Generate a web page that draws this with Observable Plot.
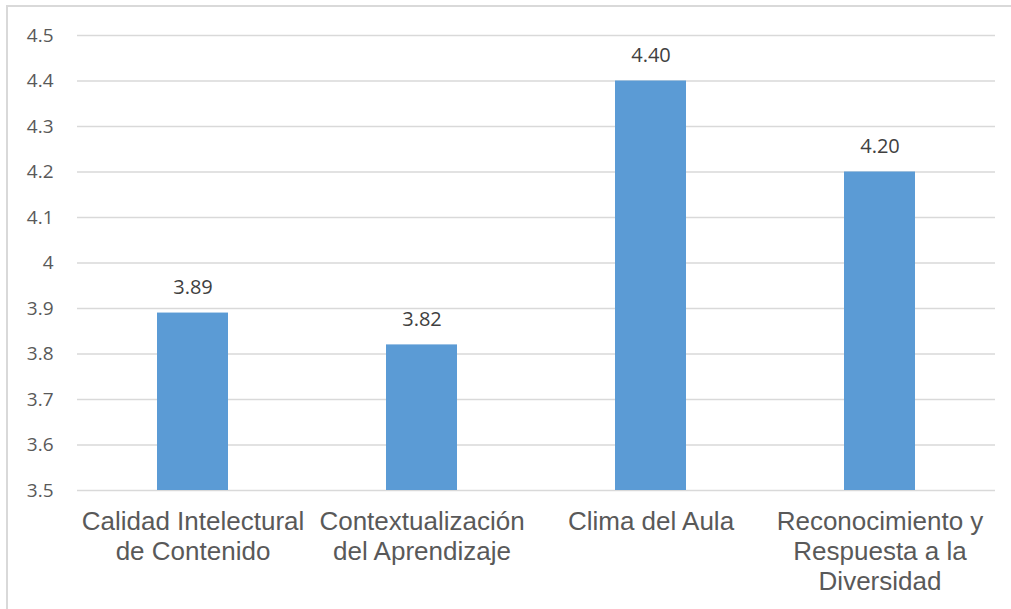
<!DOCTYPE html>
<html>
<head>
<meta charset="utf-8">
<script src="https://cdn.jsdelivr.net/npm/d3@7"></script>
<script src="https://cdn.jsdelivr.net/npm/@observablehq/plot@0.6"></script>
<style>
  body { margin: 0; background: #fff; }
  #wrap { position: relative; width: 1011px; height: 609px; overflow: hidden; }
  #border { position: absolute; left: 6px; top: 5px; width: 1100px; height: 700px; border: 2px solid #d9d9d9; box-sizing: border-box; }
  #chart { position: absolute; left: 0; top: 0; }
</style>
</head>
<body>
<div id="wrap"><div id="border"></div><div id="chart"></div></div>
<script>
const categories = [
  "Calidad Intelectural\nde Contenido",
  "Contextualización\ndel Aprendizaje",
  "Clima del Aula",
  "Reconocimiento y\nRespuesta a la\nDiversidad"
];
const values = [3.89, 3.82, 4.40, 4.20];
const yTicks = [3.5, 3.6, 3.7, 3.8, 3.9, 4, 4.1, 4.2, 4.3, 4.4, 4.5];

const data = categories.map((c, i) => ({category: c, value: values[i]}));

const chart = Plot.plot({
  width: 1011,
  height: 609,
  marginLeft: 77,
  marginRight: 16,
  marginTop: 35,
  marginBottom: 119,
  style: {background: "transparent", color: "#595959"},
  x: {domain: categories, paddingInner: 0.69, paddingOuter: 0.345, label: null},
  y: {domain: [3.5, 4.5], label: null},
  marks: [
    Plot.gridY(yTicks, {stroke: "#d9d9d9", strokeOpacity: 1, strokeWidth: 1.5}),
    Plot.axisY(yTicks, {tickSize: 0, tickPadding: 24, fontSize: 19, fontFamily: "Open Sans", fill: "#595959", tickFormat: d => String(d), label: null}),
    Plot.axisX({tickSize: 0, tickPadding: 18, fontSize: 26, fontFamily: "Liberation Sans", fill: "#595959", lineHeight: 1.15, label: null}),
    Plot.barY(data, {x: "category", y1: 3.5, y2: "value", fill: "#5b9bd5"}),
    Plot.text(data, {x: "category", y: "value", text: d => d.value.toFixed(2), dy: -25, fontSize: 20, fontFamily: "Open Sans", fill: "#404040"})
  ]
});
document.getElementById("chart").appendChild(chart);
</script>
</body>
</html>
